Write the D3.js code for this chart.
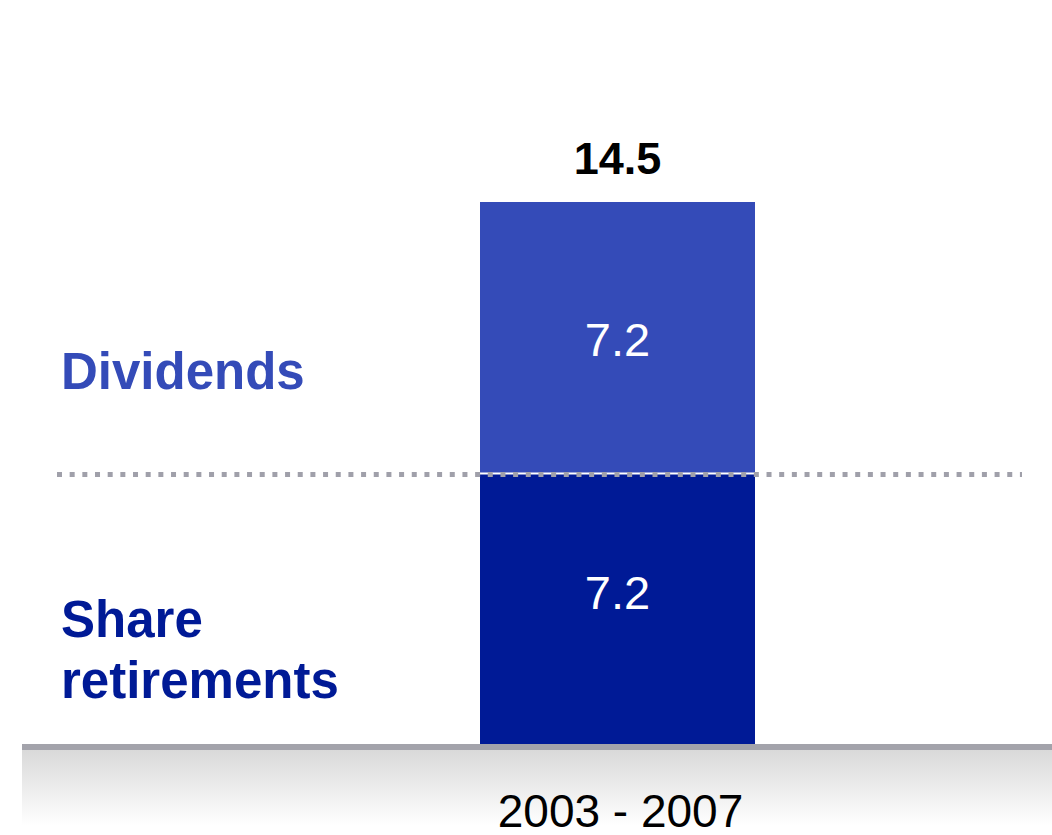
<!DOCTYPE html>
<html>
<head>
<meta charset="utf-8">
<style>
  body { margin: 0; background: #fff; }
  svg { position: absolute; top: 0; left: 0; }
  text { font-family: "Liberation Sans", Arial, sans-serif; }
  .seg-label { fill: #fff; font-size: 47px; text-anchor: middle; }
  .total { fill: #000; font-size: 45px; font-weight: bold; text-anchor: middle; }
  .series-name { font-size: 51px; font-weight: bold; }
  .cat { fill: #000; font-size: 46px; text-anchor: middle; }
</style>
<script src="https://cdnjs.cloudflare.com/ajax/libs/d3/7.8.5/d3.min.js"></script>
</head>
<body>
<svg width="1052" height="835"></svg>
<script>
// data
var categories = ["2003 - 2007"];
var seriesNames = ["Share retirements", "Dividends"];
var shareRetirements = [7.2];
var dividends = [7.2];
var totalLabels = ["14.5"];
var colors = ["#001a96", "#344bb8"];
var labelDrop = [135, 154]; // baseline offset of value labels below each segment top

var svg = d3.select("svg"),
    width = +svg.attr("width"),
    height = +svg.attr("height");

var stack = categories.map(function(c, i) {
  return [shareRetirements[i], dividends[i]];
});

var x = d3.scaleBand().domain(categories).range([480, 755]).padding(0);
var y = d3.scaleLinear()
  .domain([0, d3.max(stack, function(s) { return d3.sum(s); })])
  .range([745, 202]);

// floor gradient under the baseline
var defs = svg.append("defs");
var grad = defs.append("linearGradient").attr("id", "floor")
  .attr("x1", 0).attr("y1", 0).attr("x2", 0).attr("y2", 1);
grad.append("stop").attr("offset", "0%").attr("stop-color", "#d9d9d9");
grad.append("stop").attr("offset", "100%").attr("stop-color", "#ffffff");

svg.append("rect")
  .attr("x", 22).attr("y", y(0) + 5)
  .attr("width", width - 22).attr("height", 76)
  .attr("fill", "url(#floor)");

// bars
var g = svg.append("g");
stack.forEach(function(vals, ci) {
  var base = 0;
  vals.forEach(function(v, si) {
    var y0 = y(base), y1 = y(base + v);
    g.append("rect")
      .attr("x", x(categories[ci]))
      .attr("y", y1)
      .attr("width", x.bandwidth())
      .attr("height", y0 - y1)
      .attr("fill", colors[si]);
    g.append("text")
      .attr("class", "seg-label")
      .attr("x", x(categories[ci]) + x.bandwidth() / 2)
      .attr("y", y1 + labelDrop[si])
      .text(v.toFixed(1));
    base += v;
  });
  g.append("text")
    .attr("class", "total")
    .attr("x", x(categories[ci]) + x.bandwidth() / 2)
    .attr("y", y(base) - 28)
    .text(totalLabels[ci]);
});

// white split between segments
var split = y(shareRetirements[0]);
svg.append("line")
  .attr("x1", x(categories[0])).attr("x2", x(categories[0]) + x.bandwidth())
  .attr("y1", split).attr("y2", split)
  .attr("stroke", "#fff").attr("stroke-width", 2);

// dotted divider
svg.append("line")
  .attr("x1", 57).attr("x2", 1022)
  .attr("y1", split + 1).attr("y2", split + 1)
  .attr("stroke", "#a0a0aa")
  .attr("stroke-width", 5)
  .attr("stroke-dasharray", "5 7.67");

// baseline
svg.append("rect")
  .attr("x", 22).attr("y", y(0) - 1)
  .attr("width", width - 22).attr("height", 6)
  .attr("fill", "#a3a3ab");

// category label
svg.append("text")
  .attr("class", "cat")
  .attr("x", x(categories[0]) + x.bandwidth() / 2 + 3)
  .attr("y", 827)
  .text(categories[0]);

// series names on the left
svg.append("text")
  .attr("class", "series-name")
  .attr("x", 61).attr("y", 389)
  .attr("fill", colors[1])
  .text(seriesNames[1]);

var sr = svg.append("text")
  .attr("class", "series-name")
  .attr("fill", colors[0]);
sr.append("tspan").attr("x", 61).attr("y", 637).text("Share");
sr.append("tspan").attr("x", 61).attr("y", 698).text("retirements");
</script>
</body>
</html>
